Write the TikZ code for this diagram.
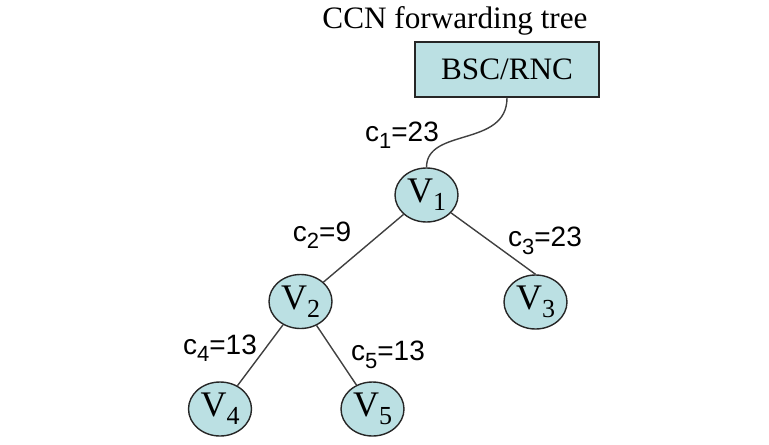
\documentclass[tikz,border=0pt]{standalone}
\usepackage{fontspec}
\setmainfont{Liberation Serif}
\setsansfont{Liberation Sans}
\usetikzlibrary{shapes.geometric}
\definecolor{nodefill}{RGB}{187,224,227}
\newcommand{\lowidx}[2][11]{\raisebox{-0.5ex}{\fontsize{#1}{#1}\selectfont #2}}
\begin{document}
\begin{tikzpicture}[x=0.5pt,y=-0.5pt,line width=0.7pt,
	vert/.style={ellipse,draw=black!85,fill=nodefill,minimum width=31.5pt,minimum height=27pt,inner sep=0pt,font=\fontsize{18}{20}\selectfont},
	cost/.style={font=\sffamily\fontsize{14}{16}\selectfont,inner sep=0pt},
	link/.style={draw=black!75}]
	\useasboundingbox (0,0) rectangle (769,444);
	\node (title) at (455,21) [font=\fontsize{15.6}{18}\selectfont] {CCN forwarding tree};
	\node (bsc) at (507,69.5) [draw=black!85,fill=nodefill,minimum width=92pt,minimum height=27.5pt,inner sep=0pt,font=\fontsize{15.6}{18}\selectfont] {BSC/RNC};
	\node (v1) at (426.5,195) [vert] {V\lowidx[13]{1}};
	\node (v2) at (300.5,301.5) [vert] {V\lowidx[13]{2}};
	\node (v3) at (535.5,302) [vert] {V\lowidx[13]{3}};
	\node (v4) at (220,409) [vert] {V\lowidx[13]{4}};
	\node (v5) at (372.5,409) [vert] {V\lowidx[13]{5}};
	\draw[link] (bsc.south) .. controls +(0,50) and +(0,-40) .. (v1.north);
	\draw[link] (v1) -- (v2);
	\draw[link] (v1) -- (v3.north);
	\draw[link] (v2) -- (v4);
	\draw[link] (v2) -- (v5);
	\node (c1) at (402,135) [cost] {c\lowidx{1}=23};
	\node (c2) at (322,235) [cost] {c\lowidx{2}=9};
	\node (c3) at (545,241) [cost] {c\lowidx{3}=23};
	\node (c4) at (220,348) [cost] {c\lowidx{4}=13};
	\node (c5) at (388,355) [cost] {c\lowidx{5}=13};
\end{tikzpicture}
\end{document}
